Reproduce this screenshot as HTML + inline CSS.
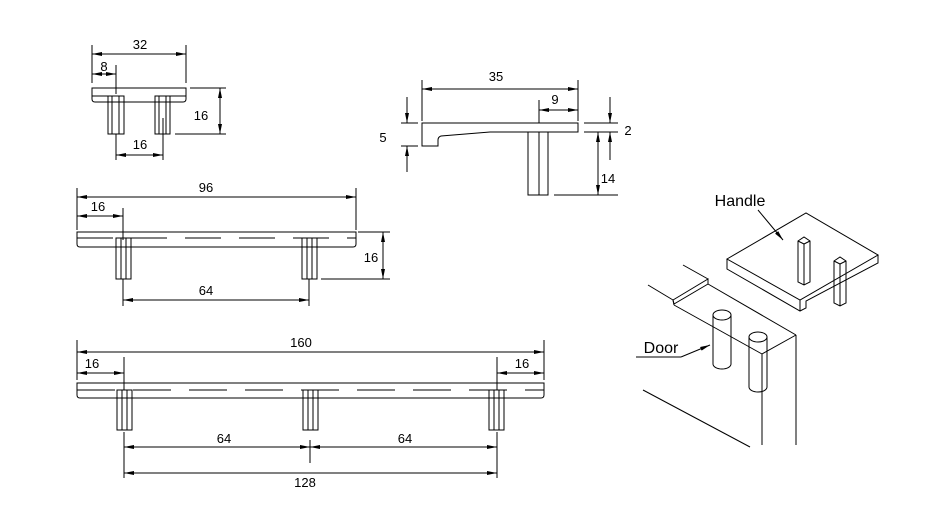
<!DOCTYPE html>
<html><head><meta charset="utf-8"><style>html,body{margin:0;padding:0;background:#fff}svg{display:block}</style></head>
<body>
<svg width="945" height="531" viewBox="0 0 945 531" xmlns="http://www.w3.org/2000/svg" font-family="Liberation Sans, sans-serif" font-size="13">
<defs>
<marker id="a" viewBox="0 0 10 4" refX="10" refY="2" markerWidth="10" markerHeight="4" orient="auto-start-reverse" markerUnits="userSpaceOnUse"><path d="M0,0L10,2L0,4z" fill="#000"/></marker>
</defs>
<g stroke="#000" stroke-width="1" fill="none">
<path d="M92,88H186V99Q186,102 183,102H95Q92,102 92,99Z"/>
<line x1="92" y1="96" x2="124" y2="96"/>
<line x1="155" y1="96" x2="186" y2="96"/>
<rect x="108" y="96" width="16" height="38"/><line x1="112" y1="96" x2="112" y2="134"/><line x1="119" y1="96" x2="119" y2="134"/>
<rect x="155" y="96" width="15" height="38"/><line x1="159" y1="96" x2="159" y2="134"/><line x1="166" y1="96" x2="166" y2="134"/>
<line x1="92" y1="45" x2="92" y2="83"/><line x1="186" y1="45" x2="186" y2="83"/>
<line x1="92" y1="54" x2="186" y2="54" marker-start="url(#a)" marker-end="url(#a)"/>
<line x1="116" y1="65" x2="116" y2="94"/>
<line x1="92" y1="74" x2="116" y2="74" marker-start="url(#a)" marker-end="url(#a)"/>
<line x1="190" y1="88" x2="226" y2="88"/><line x1="175" y1="134" x2="226" y2="134"/>
<line x1="220" y1="88" x2="220" y2="134" marker-start="url(#a)" marker-end="url(#a)"/>
<line x1="116" y1="134" x2="116" y2="160"/><line x1="163" y1="118" x2="163" y2="160"/>
<line x1="116" y1="155" x2="163" y2="155" marker-start="url(#a)" marker-end="url(#a)"/>
<path d="M77,232H356V244Q356,247 353,247H80Q77,247 77,244Z"/>
<line x1="77" y1="238" x2="356" y2="238" stroke-dasharray="36,18"/>
<rect x="116" y="238" width="15" height="41"/><line x1="121" y1="238" x2="121" y2="279"/><line x1="126" y1="238" x2="126" y2="279"/>
<rect x="302" y="238" width="15" height="41"/><line x1="307" y1="238" x2="307" y2="279"/><line x1="312" y1="238" x2="312" y2="279"/>
<line x1="77" y1="188" x2="77" y2="230"/><line x1="356" y1="188" x2="356" y2="230"/>
<line x1="77" y1="197" x2="356" y2="197" marker-start="url(#a)" marker-end="url(#a)"/>
<line x1="123" y1="208" x2="123" y2="240"/>
<line x1="77" y1="216" x2="123" y2="216" marker-start="url(#a)" marker-end="url(#a)"/>
<line x1="358" y1="232" x2="390" y2="232"/><line x1="321" y1="279" x2="390" y2="279"/>
<line x1="383" y1="232" x2="383" y2="279" marker-start="url(#a)" marker-end="url(#a)"/>
<line x1="123" y1="279" x2="123" y2="306"/><line x1="309" y1="279" x2="309" y2="306"/>
<line x1="123" y1="300" x2="309" y2="300" marker-start="url(#a)" marker-end="url(#a)"/>
<path d="M77,383H544V395Q544,398 541,398H80Q77,398 77,395Z"/>
<line x1="77" y1="390" x2="544" y2="390" stroke-dasharray="38,18"/>
<rect x="117" y="390" width="15" height="40"/><line x1="122" y1="390" x2="122" y2="430"/><line x1="127" y1="390" x2="127" y2="430"/>
<rect x="303" y="390" width="15" height="40"/><line x1="308" y1="390" x2="308" y2="430"/><line x1="313" y1="390" x2="313" y2="430"/>
<rect x="489" y="390" width="15" height="40"/><line x1="494" y1="390" x2="494" y2="430"/><line x1="499" y1="390" x2="499" y2="430"/>
<line x1="77" y1="340" x2="77" y2="380"/><line x1="544" y1="340" x2="544" y2="380"/>
<line x1="77" y1="352" x2="544" y2="352" marker-start="url(#a)" marker-end="url(#a)"/>
<line x1="124" y1="357" x2="124" y2="390"/><line x1="497" y1="357" x2="497" y2="390"/>
<line x1="77" y1="373" x2="124" y2="373" marker-start="url(#a)" marker-end="url(#a)"/>
<line x1="497" y1="373" x2="544" y2="373" marker-start="url(#a)" marker-end="url(#a)"/>
<line x1="124" y1="432" x2="124" y2="478"/><line x1="497" y1="432" x2="497" y2="478"/>
<line x1="310" y1="440" x2="310" y2="463"/>
<line x1="124" y1="447" x2="310" y2="447" marker-start="url(#a)" marker-end="url(#a)"/>
<line x1="310" y1="447" x2="497" y2="447" marker-start="url(#a)" marker-end="url(#a)"/>
<line x1="124" y1="473" x2="497" y2="473" marker-start="url(#a)" marker-end="url(#a)"/>
<path d="M422,123H578V132H490L441,136Q438,137 438,140V146H422Z"/>
<rect x="528" y="132" width="20" height="63"/><line x1="539" y1="132" x2="539" y2="195"/>
<line x1="422" y1="80" x2="422" y2="121"/><line x1="578" y1="80" x2="578" y2="121"/>
<line x1="422" y1="89" x2="578" y2="89" marker-start="url(#a)" marker-end="url(#a)"/>
<line x1="539" y1="100" x2="539" y2="123"/>
<line x1="539" y1="110" x2="578" y2="110" marker-start="url(#a)" marker-end="url(#a)"/>
<line x1="401" y1="123" x2="418" y2="123"/><line x1="401" y1="146" x2="418" y2="146"/>
<line x1="407" y1="97" x2="407" y2="123" marker-end="url(#a)"/>
<line x1="407" y1="172" x2="407" y2="146" marker-end="url(#a)"/>
<line x1="584" y1="123" x2="618" y2="123"/><line x1="584" y1="132" x2="618" y2="132"/>
<line x1="610" y1="97" x2="610" y2="123" marker-end="url(#a)"/>
<line x1="610" y1="160" x2="610" y2="132" marker-end="url(#a)"/>
<line x1="554" y1="195" x2="618" y2="195"/>
<line x1="598" y1="132" x2="598" y2="195" marker-start="url(#a)" marker-end="url(#a)"/>
<path d="M727,259L806,213L878,255L800,300Z"/>
<path d="M727,259V269L800,311L806,308V301L878,263V255"/>
<path d="M800,300V311"/>
<path d="M798,241L804,237L810,241V282L804,285L798,282Z"/><line x1="798" y1="241" x2="804" y2="244"/><line x1="804" y1="244" x2="810" y2="241"/><line x1="804" y1="244" x2="804" y2="285"/>
<path d="M834,261L840,257L846,261V303L840,306L834,303Z"/><line x1="834" y1="261" x2="840" y2="264"/><line x1="840" y1="264" x2="846" y2="261"/><line x1="840" y1="264" x2="840" y2="306"/>
<line x1="758" y1="210" x2="783" y2="240" marker-end="url(#a)"/>
<line x1="648" y1="285" x2="673" y2="300"/>
<line x1="683" y1="265" x2="708" y2="279"/>
<path d="M673,300L708,279V284L674,304Z"/>
<line x1="673" y1="300" x2="674" y2="305"/>
<line x1="708" y1="284" x2="796" y2="335"/>
<line x1="674" y1="305" x2="762" y2="354"/>
<line x1="762" y1="354" x2="796" y2="335"/>
<line x1="762" y1="354" x2="762" y2="445"/>
<line x1="796" y1="335" x2="796" y2="445"/>
<line x1="643" y1="390" x2="750" y2="447"/>
<ellipse cx="722" cy="315" rx="9" ry="5" fill="#fff"/>
<path d="M713,315V364A9,5 0 0 0 731,364V315"/>
<ellipse cx="758" cy="337" rx="9" ry="5" fill="#fff"/>
<path d="M749,337V387A9,5 0 0 0 767,387V337"/>
<line x1="636" y1="357" x2="681" y2="357"/>
<line x1="681" y1="357" x2="710" y2="345" marker-end="url(#a)"/>
</g>
<g fill="#000" text-anchor="middle">
<text x="140" y="49">32</text><text x="104" y="71">8</text><text x="201" y="120">16</text><text x="140" y="149">16</text>
<text x="206" y="192">96</text><text x="98" y="211">16</text><text x="371" y="262">16</text><text x="206" y="295">64</text>
<text x="301" y="347">160</text><text x="92" y="368">16</text><text x="522" y="368">16</text>
<text x="224" y="443">64</text><text x="405" y="443">64</text><text x="305" y="487">128</text>
<text x="496" y="81">35</text><text x="555" y="104">9</text><text x="383" y="142">5</text><text x="628" y="135">2</text><text x="608" y="183">14</text>
<text x="740" y="206" font-size="16">Handle</text><text x="661" y="353" font-size="16">Door</text>
</g>
</svg>
</body></html>
